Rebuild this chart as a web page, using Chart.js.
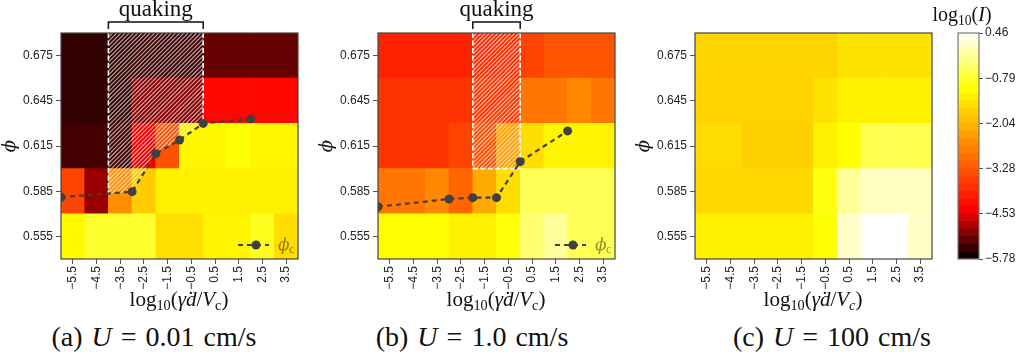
<!DOCTYPE html>
<html>
<head>
<meta charset="utf-8">
<script src="https://cdn.jsdelivr.net/npm/chart.js@4/dist/chart.umd.min.js"></script>
<style>
  body { margin: 0; width: 1017px; height: 358px; background: #fff; position: relative; overflow: hidden; }
  .panel { position: absolute; top: 0; }
  .lab { position: absolute; font-family: "Liberation Serif", serif; color: #111; white-space: nowrap; transform: translateX(-50%); }
  .lab sub { font-size: 68%; vertical-align: -0.3em; }
  .xt { font-size: 21px; top: 287px; }
  .cap { font-size: 28px; top: 321px; word-spacing: 2px; }
</style>
</head>
<body>
<div class="panel" style="left:0px"><canvas id="pa" width="311" height="290"></canvas></div>
<div class="panel" style="left:317px"><canvas id="pb" width="311" height="290"></canvas></div>
<div class="panel" style="left:634px"><canvas id="pc" width="311" height="290"></canvas></div>
<div class="panel" style="left:930px"><canvas id="cb" width="87" height="290"></canvas></div>

<div class="lab xt" style="left:179px">log<sub>10</sub>(<i>γ̇d</i>/<i>V</i><sub>c</sub>)</div>
<div class="lab xt" style="left:496px">log<sub>10</sub>(<i>γ̇d</i>/<i>V</i><sub>c</sub>)</div>
<div class="lab xt" style="left:813px">log<sub>10</sub>(<i>γ̇d</i>/<i>V</i><sub><i>c</i></sub>)</div>
<div class="lab" style="left:962px; top:3px; font-size:20px">log<sub>10</sub>(<i>I</i>)</div>

<div class="lab cap" style="left:154px">(a) <i>U</i> = 0.01 cm/s</div>
<div class="lab cap" style="left:472px">(b) <i>U</i> = 1.0 cm/s</div>
<div class="lab cap" style="left:832px">(c) <i>U</i> = 100 cm/s</div>

<script>
// columns: log10(gamma_dot d / Vc), rows: phi
const xLabels = ['\u22125.5', '\u22124.5', '\u22123.5', '\u22122.5', '\u22121.5', '\u22120.5', '0.5', '1.5', '2.5', '3.5'];
const phiRows = [0.555, 0.585, 0.615, 0.645, 0.675];
const phiTicks = [0.555, 0.585, 0.615, 0.645, 0.675];

// log10(I) per cell, one row per phi (bottom to top)
const valsA = [
  [-1.17, -0.81, -0.81, -0.81, -1.53, -1.53, -1.23, -1.23, -0.91, -1.54],
  [-3.53, -4.96, -2.55, -1.76, -1.28, -1.28, -1.28, -1.28, -1.28, -1.28],
  [-5.42, -5.42, -5.42, -4.45, -3.35, -1.21, -1.21, -1.08, -1.21, -1.21],
  [-5.51, -5.51, -5.51, -5.05, -5.05, -5.05, -4.32, -4.32, -4.32, -4.32],
  [-5.51, -5.51, -5.51, -5.45, -5.45, -5.45, -5.24, -5.24, -5.24, -5.24]
];
const valsB = [
  [-1.12, -1.12, -1.12, -1.27, -1.27, -1.06, -0.42, -0.16, -0.58, -0.58],
  [-2.87, -2.87, -2.64, -3.09, -2.20, -1.54, -0.58, -0.58, -0.58, -0.58],
  [-3.74, -3.74, -3.74, -3.53, -3.37, -2.33, -1.54, -1.23, -1.23, -1.23],
  [-3.74, -3.74, -3.74, -3.74, -3.70, -3.70, -2.87, -2.87, -2.64, -2.88],
  [-3.97, -3.97, -3.97, -3.97, -3.85, -3.80, -3.53, -3.30, -3.30, -3.30]
];
const valsC = [
  [-1.29, -1.29, -1.29, -1.29, -1.29, -1.08, 0.12, 0.46, 0.46, 0.12],
  [-1.61, -1.61, -1.61, -1.61, -1.61, -1.00, -0.16, 0.07, 0.07, 0.07],
  [-1.54, -1.54, -1.71, -1.71, -1.71, -1.29, -1.10, -0.61, -0.61, -0.61],
  [-1.68, -1.68, -1.68, -1.68, -1.68, -1.46, -1.27, -1.27, -1.27, -1.27],
  [-1.64, -1.64, -1.64, -1.64, -1.64, -1.64, -1.46, -1.46, -1.46, -1.46]
];

// critical packing fraction phi_c
const phiCxA = [-6, -3, -2, -1, 0, 2];
const phiCyA = [0.581, 0.5847, 0.6099, 0.619, 0.630, 0.633];
const phiCxB = [-6, -3, -2, -1, 0, 2];
const phiCyB = [0.5747, 0.5798, 0.5807, 0.5807, 0.6046, 0.625];

// quaking range [from, to]; floor null = bounded below by phi_c
const quakeA = [-4, 0];
const quakeFloorA = null;
const quakeB = [-2, 0];
const quakeFloorB = 0.6;

const cbMin = -5.78, cbMax = 0.46;
const cbTicks = [0.46, -0.79, -2.04, -3.28, -4.53, -5.78];
const cbLevels = 30;

const TICK_FONT = { family: 'Liberation Sans', size: 12 };

// black -> red -> yellow -> white
function heat(v) {
  let t = (v - cbMin) / (cbMax - cbMin);
  t = Math.max(0, Math.min(1, t));
  let r, g, b;
  if (t < 0.22) { r = 255 * t / 0.22; g = 0; b = 0; }
  else if (t < 0.75) { r = 255; g = 255 * (t - 0.22) / 0.53; b = 0; }
  else { r = 255; g = 255; b = 255 * (t - 0.75) / 0.25; }
  return `rgb(${Math.round(r)},${Math.round(g)},${Math.round(b)})`;
}

const framePlugin = {
  id: 'frame',
  afterDraw(chart, args, opts) {
    const { ctx, chartArea: ca } = chart;
    ctx.save();
    ctx.strokeStyle = opts.color || '#444';
    ctx.lineWidth = 1.2;
    ctx.strokeRect(ca.left, ca.top, ca.right - ca.left, ca.bottom - ca.top);
    ctx.restore();
  }
};

function curveY(pts, px) {
  for (let i = 0; i < pts.length - 1; i++) {
    const a = pts[i], b = pts[i + 1];
    if (px >= a[0] && px <= b[0]) return a[1] + (b[1] - a[1]) * (px - a[0]) / (b[0] - a[0]);
  }
  return pts[pts.length - 1][1];
}

// hatched quaking zone, bracket, label and phi_c legend
const quakePlugin = {
  id: 'quake',
  beforeDatasetDraw(chart, args, opts) {
    if (!opts.range || chart.data.datasets[args.index].type !== 'line') return;
    const { ctx, chartArea: ca } = chart;
    const xs = chart.scales.x2, ys = chart.scales.y;
    const left = xs.getPixelForValue(opts.range[0]);
    const right = xs.getPixelForValue(opts.range[1]);
    let edge;
    if (opts.floor !== null) {
      const fy = ys.getPixelForValue(opts.floor);
      edge = [[left, fy], [right, fy]];
    } else {
      const pts = opts.cx.map((x, i) => [xs.getPixelForValue(x), ys.getPixelForValue(opts.cy[i])]);
      edge = [[left, curveY(pts, left)]];
      pts.forEach(p => { if (p[0] > left + 0.5 && p[0] < right - 0.5) edge.push(p); });
      edge.push([right, curveY(pts, right)]);
    }
    ctx.save();
    ctx.beginPath();
    ctx.moveTo(left, ca.top);
    edge.forEach(p => ctx.lineTo(p[0], p[1]));
    ctx.lineTo(right, ca.top);
    ctx.closePath();
    ctx.clip();
    ctx.strokeStyle = 'rgba(255,255,255,0.65)';
    ctx.lineWidth = 1.1;
    const h = ca.bottom - ca.top;
    ctx.beginPath();
    for (let c = left - h; c < right + 4; c += 4.2) {
      ctx.moveTo(c, ca.bottom);
      ctx.lineTo(c + h, ca.top);
    }
    ctx.stroke();
    ctx.restore();

    ctx.save();
    ctx.strokeStyle = '#fff';
    ctx.lineWidth = 1.6;
    ctx.setLineDash([5, 2.5]);
    ctx.beginPath();
    ctx.moveTo(left, ca.top); ctx.lineTo(edge[0][0], edge[0][1]);
    ctx.moveTo(right, ca.top); ctx.lineTo(edge[edge.length - 1][0], edge[edge.length - 1][1]);
    if (opts.floor !== null) { ctx.moveTo(edge[0][0], edge[0][1]); ctx.lineTo(edge[1][0], edge[1][1]); }
    ctx.stroke();
    ctx.restore();
  },
  afterDraw(chart, args, opts) {
    if (!opts.range) return;
    const { ctx, chartArea: ca } = chart;
    const xs = chart.scales.x2;
    const left = xs.getPixelForValue(opts.range[0]);
    const right = xs.getPixelForValue(opts.range[1]);
    ctx.save();
    ctx.strokeStyle = '#111';
    ctx.lineWidth = 1.5;
    ctx.beginPath();
    ctx.moveTo(left, ca.top - 4); ctx.lineTo(left, ca.top - 11);
    ctx.lineTo(right, ca.top - 11); ctx.lineTo(right, ca.top - 4);
    ctx.stroke();
    ctx.fillStyle = '#111';
    ctx.font = '23px "Liberation Serif"';
    ctx.textAlign = 'center';
    ctx.textBaseline = 'alphabetic';
    ctx.fillText('quaking', (left + right) / 2, ca.top - 17);

    // legend entry for phi_c
    const ly = ca.bottom - 14;
    ctx.strokeStyle = '#404040';
    ctx.lineWidth = 2.2;
    ctx.setLineDash([5, 4]);
    ctx.beginPath();
    ctx.moveTo(ca.right - 60, ly); ctx.lineTo(ca.right - 29, ly);
    ctx.stroke();
    ctx.setLineDash([]);
    ctx.fillStyle = '#404040';
    ctx.beginPath();
    ctx.arc(ca.right - 42, ly, 4.5, 0, Math.PI * 2);
    ctx.fill();
    ctx.fillStyle = 'rgba(60,50,0,0.55)';
    ctx.textAlign = 'left';
    ctx.font = 'italic 17px "DejaVu Serif"';
    ctx.fillText('\u03D5', ca.right - 20, ly + 5);
    ctx.font = '12px "Liberation Serif"';
    ctx.fillText('c', ca.right - 9, ly + 8);
    ctx.restore();
  }
};

function tickGrid() {
  return { display: true, drawOnChartArea: false, drawTicks: true, tickLength: 5, color: '#555', offset: false };
}

function makePanel(id, vals, cx, cy, range, floor) {
  const datasets = phiRows.map((phi, r) => ({
    type: 'bar',
    data: vals[r].map(() => [phi - 0.015, phi + 0.015]),
    backgroundColor: vals[r].map(heat),
    borderWidth: 0,
    grouped: false,
    barPercentage: 1,
    categoryPercentage: 1,
    xAxisID: 'x',
    yAxisID: 'y',
    order: 1
  }));
  if (cx) {
    datasets.push({
      type: 'line',
      data: cx.map((x, i) => ({ x: x, y: cy[i] })),
      borderColor: '#404040',
      borderWidth: 2.2,
      borderDash: [5, 4],
      pointRadius: 4.5,
      pointBackgroundColor: '#404040',
      pointBorderWidth: 0,
      xAxisID: 'x2',
      yAxisID: 'y',
      order: 0
    });
  }
  new Chart(document.getElementById(id), {
    data: { labels: xLabels, datasets: datasets },
    options: {
      responsive: false,
      animation: false,
      layout: { padding: { top: 33, right: 13, left: 0, bottom: 0 } },
      plugins: {
        legend: { display: false },
        tooltip: { enabled: false },
        quake: { range: range, floor: floor, cx: cx, cy: cy }
      },
      scales: {
        x: {
          type: 'category',
          offset: true,
          grid: tickGrid(),
          border: { display: false },
          ticks: { minRotation: 90, maxRotation: 90, autoSkip: false, font: TICK_FONT, color: '#222', padding: 2 },
          afterFit: s => { s.height = 31; }
        },
        x2: { type: 'linear', min: -6, max: 4, display: false },
        y: {
          type: 'linear',
          min: 0.54,
          max: 0.69,
          afterBuildTicks: s => { s.ticks = phiTicks.map(v => ({ value: v })); },
          grid: tickGrid(),
          border: { display: false },
          ticks: { callback: v => v.toFixed(3), font: TICK_FONT, color: '#222', padding: 3 },
          title: { display: true, text: '\u03D5', font: { family: 'DejaVu Serif', style: 'italic', size: 18 }, color: '#111', padding: 0 },
          afterFit: s => { s.width = 61; }
        }
      }
    },
    plugins: [framePlugin, quakePlugin]
  });
}

makePanel('pa', valsA, phiCxA, phiCyA, quakeA, quakeFloorA);
makePanel('pb', valsB, phiCxB, phiCyB, quakeB, quakeFloorB);
makePanel('pc', valsC, null, null, null, null);

// colour bar
const cbSets = [];
for (let i = 0; i < cbLevels; i++) {
  const lo = cbMin + (cbMax - cbMin) * i / cbLevels;
  const hi = cbMin + (cbMax - cbMin) * (i + 1) / cbLevels;
  cbSets.push({
    data: [[lo, hi]],
    backgroundColor: heat((lo + hi) / 2),
    borderWidth: 0,
    grouped: false,
    barPercentage: 1,
    categoryPercentage: 1
  });
}
new Chart(document.getElementById('cb'), {
  type: 'bar',
  data: { labels: ['log10(I)'], datasets: cbSets },
  options: {
    responsive: false,
    animation: false,
    layout: { padding: { top: 33, right: 0, left: 28, bottom: 31 } },
    plugins: { legend: { display: false }, tooltip: { enabled: false }, frame: { color: '#777' } },
    scales: {
      x: { display: false },
      y: {
        position: 'right',
        min: cbMin,
        max: cbMax,
        afterBuildTicks: s => { s.ticks = cbTicks.map(v => ({ value: v })); },
        grid: { display: true, drawOnChartArea: false, drawTicks: true, tickLength: 4, color: '#555' },
        border: { display: false },
        ticks: { callback: v => v.toFixed(2).replace('-', '\u2212'), font: TICK_FONT, color: '#222', padding: 2 },
        afterFit: s => { s.width = 38; }
      }
    }
  },
  plugins: [framePlugin]
});
</script>
</body>
</html>
